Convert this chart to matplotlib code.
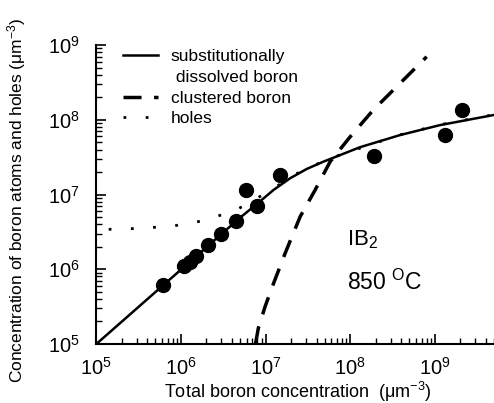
import matplotlib
matplotlib.use('Agg')
import matplotlib.pyplot as plt
from matplotlib.lines import Line2D
from matplotlib.ticker import LogLocator, LogFormatterMathtext, NullFormatter

plt.rcParams['font.family'] = ['Liberation Sans', 'DejaVu Sans']
plt.rcParams['mathtext.fontset'] = 'custom'
plt.rcParams['mathtext.rm'] = 'Liberation Sans'
plt.rcParams['mathtext.it'] = 'Liberation Sans:italic'
plt.rcParams['mathtext.bf'] = 'Liberation Sans:bold'

# substitutionally dissolved boron (solid curve)
sub_x = [1e5, 5e6, 8.6e6, 1.24e7, 1.95e7, 3.07e7, 4.82e7, 7.6e7, 1.31e8, 3.9e8, 1.16e9, 5e9]
sub_y = [1e5, 4.9e6, 8.1e6, 1.15e7, 1.65e7, 2.2e7, 2.75e7, 3.37e7, 4.3e7, 6.25e7, 8.5e7, 1.16e8]

# clustered boron (dashed curve)
cl_x = [7.6e6, 8.2e6, 9.86e6, 1.18e7, 1.70e7, 2.56e7, 3.85e7, 5.79e7, 1.0e8, 1.87e8, 3.89e8, 8.0e8]
cl_y = [1e5, 1.62e5, 3.16e5, 5.56e5, 1.63e6, 5.05e6, 1.15e7, 2.75e7, 5.93e7, 1.35e8, 3.08e8, 6.97e8]

# holes (dotted curve)
h_x = [1.4e5, 3.5e5, 8.5e5, 2.05e6, 4.86e6, 7.5e6, 1.24e7, 1.95e7, 3.07e7, 7.6e7, 3.9e8, 1.16e9, 5e9]
h_y = [3.42e6, 3.53e6, 3.83e6, 4.56e6, 6.53e6, 8.6e6, 1.2e7, 1.7e7, 2.25e7, 3.4e7, 6.3e7, 8.6e7, 1.17e8]

# measured points
pt_x = [6.1e5, 1.10e6, 1.28e6, 1.51e6, 2.09e6, 2.95e6, 4.44e6, 5.84e6, 7.94e6, 1.50e7, 1.90e8, 1.32e9, 2.12e9]
pt_y = [6.1e5, 1.10e6, 1.26e6, 1.50e6, 2.09e6, 2.96e6, 4.38e6, 1.14e7, 7.08e6, 1.82e7, 3.30e7, 6.2e7, 1.35e8]

fig = plt.figure(figsize=(4.94, 4.03), dpi=100)
ax = fig.add_axes([0.195, 0.1464, 0.805, 0.7419])

l_sub, = ax.plot(sub_x, sub_y, '-', color='black', lw=1.8)
l_cl, = ax.plot(cl_x, cl_y, color='black', lw=2.5, dashes=(5.2, 3.6))
l_h, = ax.plot(h_x, h_y, color='black', lw=2, dashes=(1, 7))
ax.scatter(pt_x, pt_y, s=100, color='black', zorder=5, clip_on=False)

ax.set_xscale('log')
ax.set_yscale('log')
ax.set_xlim(1e5, 5e9)
ax.set_ylim(1e5, 1e9)

for s in ['top', 'right']:
    ax.spines[s].set_visible(False)
for s in ['left', 'bottom']:
    ax.spines[s].set_linewidth(1.5)

for axis in (ax.xaxis, ax.yaxis):
    axis.set_major_locator(LogLocator(base=10, numticks=20))
    axis.set_minor_locator(LogLocator(base=10, subs=range(2, 10), numticks=20))
    axis.set_major_formatter(LogFormatterMathtext())
    axis.set_minor_formatter(NullFormatter())
ax.tick_params(which='major', direction='in', length=7, width=1.2, labelsize=14.5)
ax.tick_params(which='minor', direction='in', length=4.5, width=1)
ax.tick_params(axis='x', which='major', pad=9)
ax.tick_params(axis='y', which='major', pad=12)

ax.set_xlabel('Total boron concentration  (\u03bcm$^{-3}$)', fontsize=13, va='top')
ax.xaxis.set_label_coords(0.506, -0.12)
ax.set_ylabel('Concentration of boron atoms and holes (\u03bcm$^{-3}$)', fontsize=12.5)
ax.yaxis.set_label_coords(-0.172, 0.48)

ax.text(0.630, 0.331, 'IB$_2$', transform=ax.transAxes, fontsize=16, va='baseline')
ax.text(0.630, 0.180, '850 $^{\\mathrm{O}}$C', transform=ax.transAxes, fontsize=16.5, va='baseline')

blank = Line2D([], [], color='none')
ax.legend(handles=[l_sub, blank, l_cl, l_h],
          labels=['substitutionally', ' dissolved boron', 'clustered boron', 'holes'],
          loc='upper left', bbox_to_anchor=(0.045, 1.015), frameon=False, fontsize=12.5,
          handlelength=2.0, handletextpad=0.75, labelspacing=0.32, borderpad=0)

fig.savefig('out.png', dpi=100)
